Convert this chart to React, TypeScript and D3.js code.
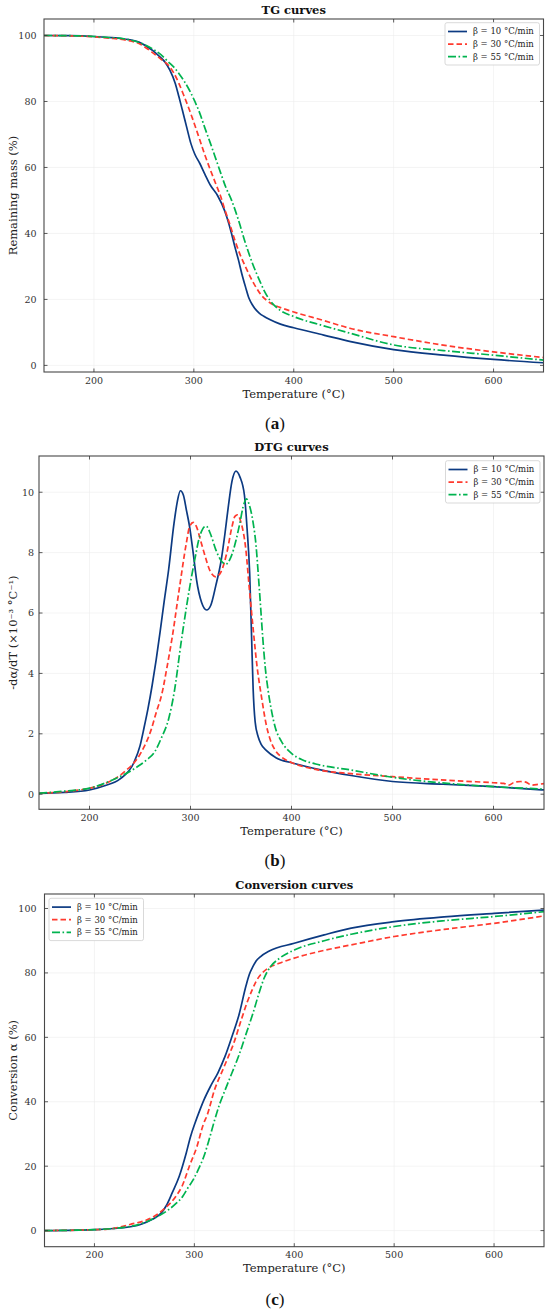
import React, { useEffect, useRef } from 'react';
import * as d3 from 'd3';

type Pt = [number, number];

// x axis (temperature, °C)
const tempDomain: Pt = [150, 650];
const tempTicks = [200, 300, 400, 500, 600];

const seriesNames = ['β = 10 °C/min', 'β = 30 °C/min', 'β = 55 °C/min'];
const seriesColors = ['#0c3a82', '#ff3a2e', '#00b34f'];
const seriesDash = ['', '5.5,3', '8,2.5,1.6,2.5'];

// TG: remaining mass (%)
const tg10: Pt[] = [
  [150, 100], [175, 99.95], [200, 99.7], [215, 99.4], [229, 99.0], [245, 98.0], [259, 95.4], [266, 93.5],
  [271, 92], [276, 89.5], [281.5, 85.4], [285, 81.5], [288.5, 77.4], [293, 72], [297, 67.3], [301, 64],
  [306, 61.2], [311, 58], [316.6, 54.6], [323.7, 51.5], [330.7, 47], [334, 44], [337.7, 40], [341, 36],
  [344.7, 31.9], [348, 27.8], [351.7, 23.8], [355, 20.5], [358.7, 18.3], [362, 16.9], [365.7, 15.8],
  [370, 14.9], [376, 13.9], [386.7, 12.5], [400, 11.4], [430, 9.2], [457, 7.2], [500, 4.8], [550, 3.1],
  [600, 1.8], [650, 0.8],
];
const tg30: Pt[] = [
  [150, 100], [175, 99.9], [200, 99.6], [215, 99.2], [230, 98.7], [246, 97.4], [260, 94.5], [268, 92.6],
  [274.5, 91], [280, 88.6], [285, 85.5], [290, 81.8], [295.6, 77.4], [301, 72.8], [306, 68.3], [311, 63.8],
  [316.6, 59.2], [322, 55], [327, 51.1], [330.7, 47.5], [336, 42.8], [341, 38], [346, 33.8], [351.7, 29.9],
  [357, 26.5], [362, 23.8], [367, 21.5], [372.6, 19.8], [380, 18.3], [386, 17.6], [400, 16.2], [430, 13.6],
  [457, 11.2], [500, 8.7], [562, 5.6], [600, 4.1], [650, 2.4],
];
const tg55: Pt[] = [
  [150, 100], [175, 99.95], [200, 99.7], [215, 99.4], [230, 99.0], [246, 97.8], [259, 95.9], [267, 94.2],
  [274.5, 92], [280, 90.4], [285, 88.5], [290, 86.3], [295.6, 83.4], [301, 80], [306, 76.4], [311, 72],
  [316.6, 67.3], [322, 62.6], [327, 58.2], [332, 54], [337.7, 50.1], [344.7, 44], [351.7, 37], [358.7, 30.9],
  [365.7, 25.8], [371, 22.3], [376, 19.8], [386, 16.8], [400, 14.8], [430, 12], [457, 9.7], [500, 6.2],
  [550, 4.5], [600, 3.1], [650, 1.6],
];

// DTG: -dα/dT (×10⁻³ °C⁻¹)
const dtg10: Pt[] = [
  [150, 0.03], [175, 0.06], [200, 0.14], [215, 0.28], [230, 0.5], [244, 1.05], [250, 1.6], [254, 2.2],
  [258, 2.85], [262, 3.6], [266, 4.45], [270, 5.4], [274, 6.4], [278.4, 7.45], [283.6, 8.95], [287, 9.7],
  [290, 10.05], [293, 9.9], [296, 9.4], [299, 8.88], [303, 7.9], [306, 7.1], [311, 6.35], [316, 6.1],
  [320, 6.25], [325, 6.9], [330.5, 7.77], [334, 8.6], [337.5, 9.54], [341, 10.35], [345, 10.7], [349, 10.5],
  [353.4, 9.9], [356, 8.8], [358.6, 7.3], [360.5, 5.2], [362, 3.5], [364, 2.4], [367, 1.9], [370, 1.65],
  [375, 1.45], [385, 1.2], [400, 1.04], [430, 0.8], [459, 0.62], [500, 0.42], [550, 0.33], [600, 0.25],
  [650, 0.14],
];
const dtg30: Pt[] = [
  [150, 0.03], [175, 0.08], [200, 0.2], [216, 0.36], [233, 0.7], [250.7, 1.36], [261, 2.13], [266, 2.7],
  [271.5, 3.3], [276.7, 4.2], [281.9, 5.2], [288.9, 6.8], [295.8, 8.3], [299, 8.85], [302.8, 9.0],
  [306, 8.85], [310, 8.4], [313, 8.05], [320, 7.35], [325, 7.2], [330, 7.35], [336, 8.0], [341, 8.85],
  [344, 9.2], [346.5, 9.25], [350, 9.0], [354.8, 8.1], [358, 6.9], [361.8, 5.56], [366, 4.2], [370.4, 3.2],
  [375, 2.3], [379, 1.8], [384, 1.45], [389.4, 1.25], [400, 1.05], [424, 0.82], [459, 0.68], [500, 0.58],
  [561, 0.45], [600, 0.38], [610, 0.36], [615, 0.3], [621, 0.4], [627, 0.42], [632, 0.4], [638, 0.3],
  [645, 0.33], [650, 0.35],
];
const dtg55: Pt[] = [
  [150, 0.03], [175, 0.1], [200, 0.2], [226, 0.52], [247, 0.9], [256, 1.12], [264.5, 1.4], [271, 1.85],
  [278.4, 2.5], [284, 3.4], [290.6, 5.0], [296, 6.2], [301, 7.2], [305, 7.9], [308, 8.4], [312, 8.78],
  [315.5, 8.88], [320, 8.6], [325, 8.1], [330, 7.75], [335, 7.62], [340, 7.85], [345, 8.4], [349, 9.0],
  [352, 9.5], [355.5, 9.78], [358, 9.6], [362, 8.99], [365, 8.2], [367, 7.33], [369, 6.4], [371.5, 5.2],
  [374, 4.2], [377, 3.4], [380, 2.8], [384, 2.2], [390, 1.75], [400, 1.35], [410, 1.15], [424, 1.0],
  [459, 0.8], [500, 0.56], [561, 0.34], [600, 0.25], [650, 0.17],
];

// Conversion α (%)
const conv10: Pt[] = [
  [150, 0], [200, 0.3], [225, 0.8], [246, 1.9], [258, 3.5], [267, 5.5], [272, 7.8], [277.8, 11.7],
  [284.8, 16.8], [291.9, 24.1], [296, 29], [300.7, 33.4], [305, 37], [309.5, 40.5], [316.5, 45],
  [323.6, 49], [330.6, 54], [337.6, 60.2], [344.7, 67], [351.7, 76], [355, 79.5], [358.7, 82],
  [362, 83.8], [366, 85], [375, 86.8], [400, 89.2], [430, 91.8], [457, 93.9], [500, 95.9], [550, 97.4],
  [600, 98.5], [650, 99.5],
];
const conv30: Pt[] = [
  [150, 0], [211, 0.4], [235.5, 1.9], [256.7, 3.9], [264, 5.3], [270.8, 7.0], [281.4, 10.6], [288, 14],
  [295, 20], [302.5, 26], [309, 33], [313, 36], [320, 43.5], [329, 50.3], [334, 54], [339, 57.8],
  [346, 64.5], [353, 71], [358, 74.8], [362, 77.5], [368, 80], [373, 81.3], [385, 83], [400, 84.6],
  [430, 87], [457, 88.7], [500, 91.3], [550, 93.5], [600, 95.4], [650, 97.7],
];
const conv55: Pt[] = [
  [150, 0], [200, 0.3], [239, 1.5], [260.3, 3.9], [274.3, 6.5], [282, 8.5], [288.3, 10.6], [293, 13],
  [298.9, 15.8], [304, 19], [309.5, 23], [315, 28.5], [320, 34], [325, 39], [330.6, 43.5], [337.7, 49],
  [344.7, 54.5], [351.7, 61], [358.7, 67.5], [365, 74], [370, 78.5], [376.4, 82], [385, 84.5], [400, 87.1],
  [430, 90], [457, 92], [500, 94.4], [550, 96.2], [600, 97.5], [650, 99],
];

const massTicks = [0, 20, 40, 60, 80, 100];
const dtgTicks = [0, 2, 4, 6, 8, 10];
const convTicks = [0, 20, 40, 60, 80, 100];

interface Panel {
  title: string;
  yLabel: string;
  tag: string;
  series: Pt[][];
  yDomain: Pt;
  yTicks: number[];
  box: { left: number; right: number; top: number; bottom: number };
  legend: { x: number; y: number };
  tagY: number;
  tickPad: number;
}

const panels: Panel[] = [
  {
    title: 'TG curves', yLabel: 'Remaining mass (%)', tag: 'a',
    series: [tg10, tg30, tg55], yDomain: [-2, 105], yTicks: massTicks,
    box: { left: 44, right: 543.5, top: 19, bottom: 372 },
    legend: { x: 445, y: 22.7 }, tagY: 423, tickPad: 7.5,
  },
  {
    title: 'DTG curves', yLabel: '-dα/dT (×10⁻³ °C⁻¹)', tag: 'b',
    series: [dtg10, dtg30, dtg55], yDomain: [-0.5, 11.2], yTicks: dtgTicks,
    box: { left: 39, right: 544, top: 456, bottom: 809.3 },
    legend: { x: 445.5, y: 460.7 }, tagY: 860, tickPad: 5,
  },
  {
    title: 'Conversion curves', yLabel: 'Conversion α (%)', tag: 'c',
    series: [conv10, conv30, conv55], yDomain: [-5, 104.5], yTicks: convTicks,
    box: { left: 44.5, right: 544, top: 894, bottom: 1246.7 },
    legend: { x: 49, y: 898.3 }, tagY: 1299, tickPad: 8,
  },
];

const FONT = "'DejaVu Serif', serif";

export default function App() {
  const svgRef = useRef<SVGSVGElement>(null);

  useEffect(() => {
    if (!svgRef.current) return;
    const svg = d3.select(svgRef.current);
    svg.selectAll('*').remove();

    panels.forEach((p, pi) => {
      const { left, right, top, bottom } = p.box;
      const x = d3.scaleLinear().domain(tempDomain).range([left, right]);
      const y = d3.scaleLinear().domain(p.yDomain).range([bottom, top]);
      const g = svg.append('g').style('font-family', FONT);

      // grid
      g.selectAll('.gx').data(tempTicks).enter().append('line')
        .attr('x1', d => x(d)).attr('x2', d => x(d)).attr('y1', top).attr('y2', bottom)
        .attr('stroke', '#ececec').attr('stroke-width', 0.6);
      g.selectAll('.gy').data(p.yTicks).enter().append('line')
        .attr('x1', left).attr('x2', right).attr('y1', d => y(d)).attr('y2', d => y(d))
        .attr('stroke', '#ececec').attr('stroke-width', 0.6);

      // curves
      const clipId = `clip-${pi}`;
      svg.append('clipPath').attr('id', clipId).append('rect')
        .attr('x', left).attr('y', top).attr('width', right - left).attr('height', bottom - top);
      const line = d3.line<Pt>().x(d => x(d[0])).y(d => y(d[1])).curve(d3.curveMonotoneX);
      p.series.forEach((s, si) => {
        g.append('path')
          .attr('clip-path', `url(#${clipId})`)
          .attr('d', line(s) as string)
          .attr('fill', 'none')
          .attr('stroke', seriesColors[si])
          .attr('stroke-width', 1.7)
          .attr('stroke-dasharray', seriesDash[si] || null);
      });

      // frame
      g.append('rect')
        .attr('x', left).attr('y', top).attr('width', right - left).attr('height', bottom - top)
        .attr('fill', 'none').attr('stroke', '#484848').attr('stroke-width', 1.1);

      // inward ticks on all sides
      const tl = 3.5;
      tempTicks.forEach(t => {
        g.append('line').attr('x1', x(t)).attr('x2', x(t)).attr('y1', bottom).attr('y2', bottom - tl)
          .attr('stroke', '#333').attr('stroke-width', 0.8);
        g.append('line').attr('x1', x(t)).attr('x2', x(t)).attr('y1', top).attr('y2', top + tl)
          .attr('stroke', '#333').attr('stroke-width', 0.8);
      });
      p.yTicks.forEach(t => {
        g.append('line').attr('x1', left).attr('x2', left + tl).attr('y1', y(t)).attr('y2', y(t))
          .attr('stroke', '#333').attr('stroke-width', 0.8);
        g.append('line').attr('x1', right).attr('x2', right - tl).attr('y1', y(t)).attr('y2', y(t))
          .attr('stroke', '#333').attr('stroke-width', 0.8);
      });

      // tick labels
      g.selectAll('.tx').data(tempTicks).enter().append('text')
        .attr('x', d => x(d)).attr('y', bottom + 11.5)
        .attr('text-anchor', 'middle').attr('font-size', 9.5).attr('fill', '#333')
        .text(d => d);
      g.selectAll('.ty').data(p.yTicks).enter().append('text')
        .attr('x', left - p.tickPad).attr('y', d => y(d) + 3.4)
        .attr('text-anchor', 'end').attr('font-size', 9.5).attr('fill', '#333')
        .text(d => d);

      // title and axis labels
      g.append('text')
        .attr('x', (left + right) / 2).attr('y', top - 5)
        .attr('text-anchor', 'middle').attr('font-size', 11.5).attr('font-weight', 'bold')
        .attr('fill', '#111').text(p.title);
      g.append('text')
        .attr('x', (left + right) / 2).attr('y', bottom + 25.5)
        .attr('text-anchor', 'middle').attr('font-size', 11.5).attr('fill', '#222')
        .text('Temperature (°C)');
      g.append('text')
        .attr('transform', `translate(16.5,${(top + bottom) / 2}) rotate(-90)`)
        .attr('text-anchor', 'middle').attr('font-size', 11.5).attr('fill', '#222')
        .text(p.yLabel);

      // legend
      const lg = g.append('g').attr('transform', `translate(${p.legend.x},${p.legend.y})`);
      lg.append('rect').attr('width', 94.5).attr('height', 42.3).attr('rx', 2)
        .attr('fill', '#fff').attr('fill-opacity', 0.85)
        .attr('stroke', '#cfcfcf').attr('stroke-width', 0.8);
      seriesNames.forEach((name, si) => {
        const ry = 8.8 + si * 12.6;
        lg.append('line').attr('x1', 3).attr('x2', 22).attr('y1', ry).attr('y2', ry)
          .attr('stroke', seriesColors[si]).attr('stroke-width', 1.7)
          .attr('stroke-dasharray', seriesDash[si] || null);
        lg.append('text').attr('x', 28).attr('y', ry + 3).attr('font-size', 8.5).attr('fill', '#222')
          .text(name);
      });

      // panel tag
      const tag = svg.append('text')
        .attr('x', 275).attr('y', p.tagY + 5.5)
        .attr('text-anchor', 'middle')
        .style('font-family', "'Liberation Serif', serif")
        .attr('font-size', 17).attr('fill', '#111');
      tag.append('tspan').text('(');
      tag.append('tspan').attr('font-weight', 'bold').text(p.tag);
      tag.append('tspan').text(')');
    });
  }, []);

  return (
    <svg
      ref={svgRef}
      width={550}
      height={1315}
      style={{ position: 'absolute', left: 0, top: 0, background: '#fff' }}
    />
  );
}
